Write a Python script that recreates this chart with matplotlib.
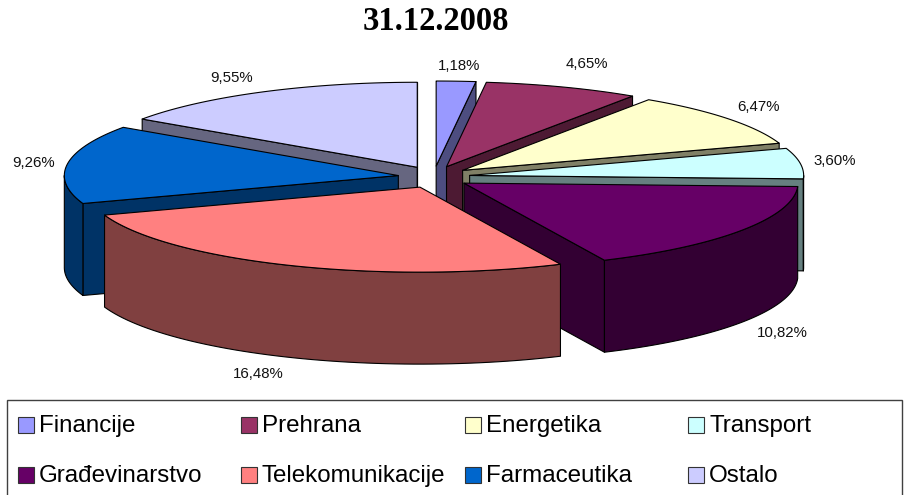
import numpy as np
import matplotlib
matplotlib.use("Agg")
import matplotlib.pyplot as plt
from matplotlib.patches import Polygon, Rectangle

title = "31.12.2008"
categories = ["Financije", "Prehrana", "Energetika", "Transport",
              "Građevinarstvo", "Telekomunikacije", "Farmaceutika", "Ostalo"]
values = [1.18, 4.65, 6.47, 3.60, 10.82, 16.48, 9.26, 9.55]
top_colors = ["#9999FF", "#993366", "#FFFFCC", "#CCFFFF",
              "#660066", "#FF8080", "#0066CC", "#CCCCFF"]
side_colors = ["#4D4D80", "#4D1A33", "#808066", "#668080",
               "#330033", "#804040", "#003366", "#666680"]

# pie geometry in image pixels
cx, cy = 434, 177
rx, ry = 334, 85
ex, ey = 36, 11
depth = 92
draw_order = [7, 0, 1, 2, 3, 6, 4, 5]  # painter's order, back to front
label_pos = [(459, 66), (587, 64), (758, 107), (835, 161),
             (782, 333), (258, 374), (34, 163), (232, 78)]
legend_cols = [18, 241, 465, 688]
legend_rows = [425, 475]

fig = plt.figure(figsize=(9.07, 4.95), dpi=100)
ax = fig.add_axes([0, 0, 1, 1])
ax.set_xlim(0, 907)
ax.set_ylim(495, 0)
ax.axis("off")

edges = np.cumsum([0] + values) / sum(values) * 360


def arc(x0, y0, a0, a1, n=60):
    t = np.radians(np.linspace(a0, a1, n))
    return np.column_stack([x0 + rx * np.sin(t), y0 - ry * np.cos(t)])


def face(pts, color, z):
    ax.add_patch(Polygon(pts, closed=True, facecolor=color, edgecolor="black",
                         linewidth=0.8, joinstyle="round", zorder=z))


z = 1
for i in draw_order:
    a0, a1 = edges[i], edges[i + 1]
    mid = np.radians((a0 + a1) / 2)
    x0 = cx + ex * np.sin(mid)
    y0 = cy - ey * np.cos(mid)
    apex = np.array([[x0, y0]])
    drop = np.array([0, depth])
    # radial walls that face the viewer
    for a, visible in ((a0, np.sin(np.radians(a0)) < 0), (a1, np.sin(np.radians(a1)) > 0)):
        if visible:
            outer = arc(x0, y0, a, a, 1)
            face(np.vstack([apex, outer, outer + drop, apex + drop]), side_colors[i], z)
            z += 1
    # outer rim, only the front half shows
    lo, hi = max(a0, 90), min(a1, 270)
    if lo < hi:
        rim = arc(x0, y0, lo, hi)
        face(np.vstack([rim, rim[::-1] + drop]), side_colors[i], z)
        z += 1
    face(np.vstack([apex, arc(x0, y0, a0, a1)]), top_colors[i], z)
    z += 1

for v, (lx, ly) in zip(values, label_pos):
    ax.text(lx, ly, f"{v:.2f}%".replace(".", ","), ha="center", va="center",
            fontsize=10.8, family="Liberation Sans", color="#111111", zorder=50)

ax.text(436, 21, title, ha="center", va="center", fontsize=23.5,
        family="Liberation Serif", fontweight="bold", color="black")

# legend box runs off the bottom of the image
ax.add_patch(Rectangle((7, 400), 895, 110, facecolor="white", edgecolor="#404040",
                       linewidth=1.0, zorder=60))
for n, name in enumerate(categories):
    sx = legend_cols[n % 4]
    sy = legend_rows[n // 4]
    ax.add_patch(Rectangle((sx, sy - 8), 16, 16, facecolor=top_colors[n],
                           edgecolor="#333333", linewidth=0.8, zorder=61))
    ax.text(sx + 21, sy + 1, name, ha="left", va="center", fontsize=17.4,
            family="Liberation Sans", color="black", zorder=61)

fig.savefig("out.png", dpi=100)
